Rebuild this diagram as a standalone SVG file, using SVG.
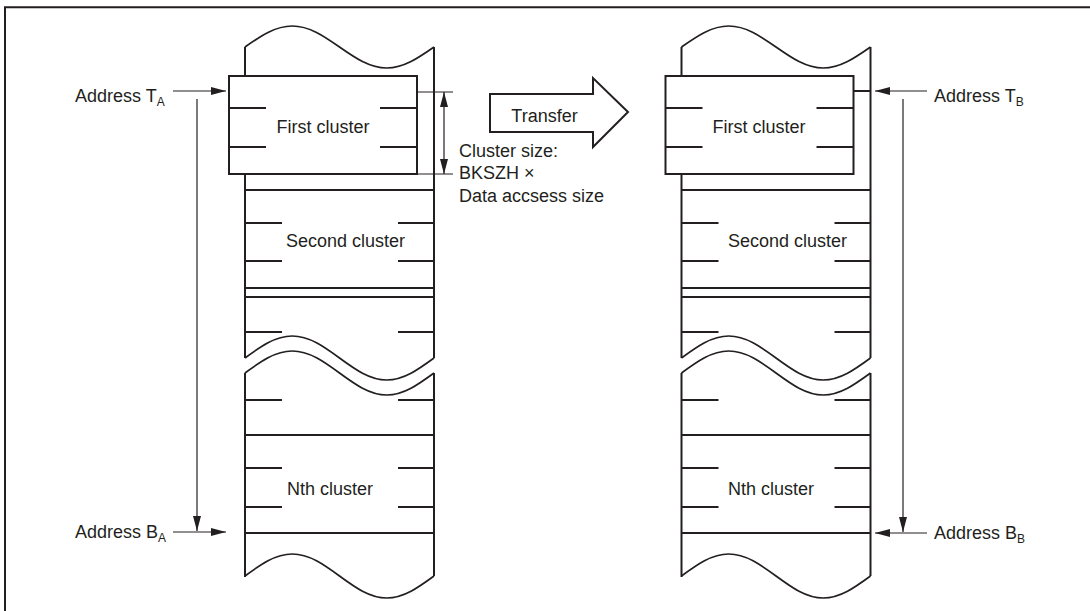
<svg xmlns="http://www.w3.org/2000/svg" xmlns:xlink="http://www.w3.org/1999/xlink" width="1090" height="611" viewBox="0 0 1090 611">
  <style>
    .t { font-family: "Liberation Sans", Arial, sans-serif; font-size: 18px; fill: #231f20; }
    .sub { font-size: 12px; }
    .edge { fill: none; stroke: #231f20; stroke-width: 2; }
    .tick { fill: none; stroke: #231f20; stroke-width: 1.8; }
    .wave { fill: none; stroke: #231f20; stroke-width: 1.7; }
    .box { fill: #ffffff; stroke: #231f20; stroke-width: 2; }
    .conn { fill: none; stroke: #231f20; stroke-width: 1.2; }
  </style>
  <defs>
    <marker id="ah" viewBox="0 0 15 8" refX="15" refY="4" markerWidth="15" markerHeight="8" markerUnits="userSpaceOnUse" orient="auto-start-reverse">
      <path d="M0,0 L15,4 L0,8 z" fill="#231f20"/>
    </marker>
    <g id="column-shape">
      <!-- top wave -->
      <path class="wave" d="M245,47 C260.4,36.25 275.15,26 292.25,26 C309.35,26 324.1,36.25 339.5,47 C354.9,57.75 369.65,68 386.75,68 C403.85,68 418.6,57.75 434,47"/>
      <!-- break waves -->
      <path class="wave" d="M245,358 C260.4,346.74 275.15,336 292.25,336 C309.35,336 324.1,346.74 339.5,358 C354.9,369.26 369.65,380 386.75,380 C403.85,380 418.6,369.26 434,358"/>
      <path class="wave" d="M245,373 C260.4,361.74 275.15,351 292.25,351 C309.35,351 324.1,361.74 339.5,373 C354.9,384.26 369.65,395 386.75,395 C403.85,395 418.6,384.26 434,373"/>
      <!-- bottom wave -->
      <path class="wave" d="M245,576 C260.4,564.74 275.15,554 292.25,554 C309.35,554 324.1,564.74 339.5,576 C354.9,587.26 369.65,598 386.75,598 C403.85,598 418.6,587.26 434,576"/>
      <!-- side edges -->
      <path class="edge" d="M245,47 V358 M434,47 V358 M245,373 V577 M434,373 V576"/>
      <!-- row lines -->
      <path class="edge" d="M245,190 H434 M245,288 H434 M245,297 H434 M245,435 H434 M245,533 H434"/>
      <!-- ticks -->
      <path class="tick" d="M245,223 H282 M398,223 H434 M245,261 H282 M398,261 H434 M245,332 H282 M398,332 H434 M245,400 H282 M398,400 H434 M245,468 H282 M398,468 H434 M245,507 H282 M398,507 H434"/>
      <!-- first cluster box -->
      <rect class="box" x="229" y="76" width="188" height="98"/>
      <path class="tick" d="M229,108 H266 M380,108 H417 M229,147 H266 M380,147 H417"/>
    </g>
  </defs>

  <!-- frame -->
  <path class="edge" d="M5,611 V7.3 H1090"/>

  <g id="memory-a">
    <use xlink:href="#column-shape" href="#column-shape"/>
    <text class="t" x="323" y="133" text-anchor="middle">First cluster</text>
    <text class="t" x="286" y="247">Second cluster</text>
    <text class="t" x="287" y="495">Nth cluster</text>
  </g>

  <g id="memory-b">
    <use xlink:href="#column-shape" href="#column-shape" transform="translate(436.5,0)"/>
    <path class="edge" d="M853,91 H870"/>
    <text class="t" x="759" y="133" text-anchor="middle">First cluster</text>
    <text class="t" x="728" y="247">Second cluster</text>
    <text class="t" x="728" y="495">Nth cluster</text>
  </g>

  <g id="transfer">
    <path class="box" d="M490,94 H593 V78 L628,112 L593,147 V132 H490 Z"/>
    <text class="t" x="544.5" y="122" text-anchor="middle">Transfer</text>
  </g>

  <g id="label-ta">
    <text class="t" x="75" y="102">Address T<tspan class="sub" dy="3.5">A</tspan></text>
  </g>
  <g id="label-ba">
    <text class="t" x="75" y="538">Address B<tspan class="sub" dy="4">A</tspan></text>
  </g>
  <g id="label-tb">
    <text class="t" x="934" y="102">Address T<tspan class="sub" dy="3.5">B</tspan></text>
  </g>
  <g id="label-bb">
    <text class="t" x="934" y="539">Address B<tspan class="sub" dy="4">B</tspan></text>
  </g>
  <g id="label-size">
    <text class="t" x="459" y="157">Cluster size:</text>
    <text class="t" x="459" y="179">BKSZH ×</text>
    <text class="t" x="459" y="202">Data accsess size</text>
  </g>

  <g id="connectors">
    <path class="conn" d="M173,91 H226" marker-end="url(#ah)"/>
    <path class="conn" d="M197,99 V531" marker-end="url(#ah)"/>
    <path class="conn" d="M173,532 H226" marker-end="url(#ah)"/>
    <path class="conn" d="M927,91 H875" marker-end="url(#ah)"/>
    <path class="conn" d="M903,99 V532" marker-end="url(#ah)"/>
    <path class="conn" d="M927,533 H875" marker-end="url(#ah)"/>
    <path class="conn" d="M417,92 H453 M417,174 H453"/>
    <path class="conn" d="M444,92 V174" marker-start="url(#ah)" marker-end="url(#ah)"/>
  </g>
</svg>
